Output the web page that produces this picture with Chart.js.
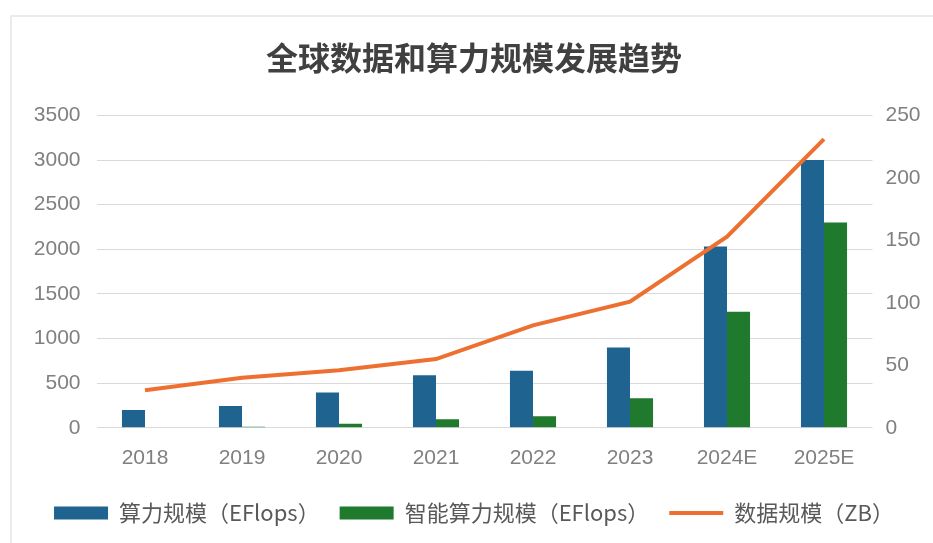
<!DOCTYPE html>
<html lang="zh">
<head>
    <meta charset="UTF-8">
    <script src="https://cdn.jsdelivr.net/npm/chart.js@4.4.1/dist/chart.umd.min.js"></script>
    <title>全球数据和算力规模发展趋势</title>
    <style>
        body { margin: 0; background: #ffffff; }
        .frame { position: absolute; left: 10px; top: 15px; width: 960px; height: 560px; border: 2px solid #ebebeb; }
        .wrap { position: absolute; left: 0; top: 0; width: 933px; height: 543px; }
    </style>
</head>
<body>
    <div class="frame"></div>
    <div class="wrap"><canvas id="myChart" width="933" height="543"></canvas></div>

    <script>
        // values
        const years = ['2018', '2019', '2020', '2021', '2022', '2023', '2024E', '2025E'];
        const computeScale = [200, 245, 395, 590, 640, 900, 2030, 3000];   // 算力规模 EFlops
        const aiCompute = [0, 12, 45, 95, 130, 330, 1300, 2300];           // 智能算力规模 EFlops
        const dataScale = [30, 40, 46, 55, 82, 101, 153, 231];             // 数据规模 ZB

        const tickFont = { family: '"Liberation Sans", Arial, sans-serif', size: 21 };
        const tickColor = '#808080';

        const ctx = document.getElementById('myChart').getContext('2d');
        const myChart = new Chart(ctx, {
            type: 'bar',
            data: {
                labels: years,
                datasets: [
                    {
                        label: '算力规模（EFlops）',
                        data: computeScale,
                        backgroundColor: '#1f6391',
                        pointStyle: 'rect',
                        yAxisID: 'y',
                        barPercentage: 1,
                        categoryPercentage: 0.475,
                        order: 1
                    },
                    {
                        label: '智能算力规模（EFlops）',
                        data: aiCompute,
                        backgroundColor: '#1f7a2d',
                        pointStyle: 'rect',
                        yAxisID: 'y',
                        barPercentage: 1,
                        categoryPercentage: 0.475,
                        order: 1
                    },
                    {
                        type: 'line',
                        label: '数据规模（ZB）',
                        data: dataScale,
                        borderColor: '#ed7030',
                        backgroundColor: '#ed7030',
                        borderWidth: 4,
                        pointRadius: 0,
                        pointBorderWidth: 4,
                        pointStyle: 'line',
                        tension: 0,
                        yAxisID: 'y1',
                        order: 0
                    }
                ]
            },
            options: {
                responsive: false,
                animation: false,
                layout: { padding: { left: 20, right: 5, top: 0, bottom: 9 } },
                plugins: {
                    tooltip: { enabled: false },
                    title: {
                        display: true,
                        text: '全球数据和算力规模发展趋势',
                        color: '#404040',
                        font: { family: '"Noto Sans CJK SC", sans-serif', size: 32, weight: 'bold' },
                        padding: { top: 39, bottom: 38 }
                    },
                    legend: {
                        position: 'bottom',
                        labels: {
                            usePointStyle: true,
                            pointStyleWidth: 54,
                            boxHeight: 13,
                            padding: 20,
                            color: '#595959',
                            font: { family: '"Noto Sans CJK SC", sans-serif', size: 22 },
                            sort: (a, b) => a.datasetIndex - b.datasetIndex
                        }
                    }
                },
                scales: {
                    x: {
                        grid: { display: false, drawTicks: false },
                        border: { display: false },
                        ticks: { font: tickFont, color: tickColor, padding: 18 },
                        afterFit: (scale) => { scale.height -= 7; }
                    },
                    y: {
                        position: 'left',
                        min: 0,
                        max: 3500,
                        ticks: { stepSize: 500, font: tickFont, color: tickColor, padding: 16,
                                 callback: (v) => String(v) },
                        grid: { color: '#d9d9d9', lineWidth: 1, drawTicks: false },
                        border: { display: false },
                        afterFit: (scale) => { scale.width = 76.5; }
                    },
                    y1: {
                        position: 'right',
                        min: 0,
                        max: 250,
                        ticks: { stepSize: 50, font: tickFont, color: tickColor, padding: 13,
                                 callback: (v) => String(v) },
                        grid: { display: false, drawTicks: false },
                        border: { display: false },
                        afterFit: (scale) => { scale.width = 55.5; }
                    }
                }
            }
        });
    </script>
</body>
</html>
